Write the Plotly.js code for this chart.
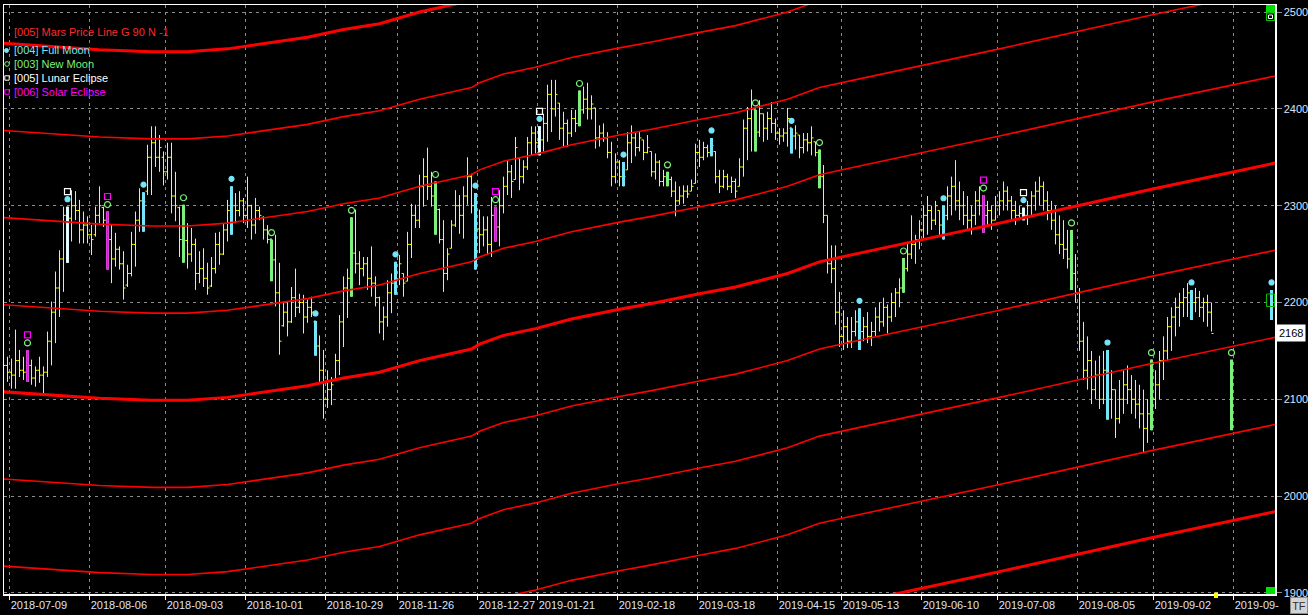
<!DOCTYPE html>
<html><head><meta charset="utf-8">
<script src="https://cdn.plot.ly/plotly-3.0.1.min.js"></script>
<style>html,body{margin:0;padding:0;background:#000;}#chart{width:1308px;height:615px;}</style>
</head><body><div id="chart"></div>
<script>
// ---- data -------------------------------------------------------------
// bar index of the first entry of the price arrays (index 0 = 2018-07-09)
const firstIndex = -2;
const high = [2156,2144,2142,2172,2151,2144,2151,2141,2134,2144,2134,2170,
2201,2232,2254,2299,2299,2316,2315,2306,2294,2289,
2280,2299,2320,2299,2294,2280,2272,2258,2253,2239,
2273,2294,2318,2314,2363,2382,2382,2373,2356,2365,
2365,2335,2299,2301,2282,2277,2266,2253,2256,2241,
2247,2272,2273,2282,2306,2320,2313,2315,2308,2330,
2301,2308,2299,2289,2280,2265,2270,2241,2201,2201,
2216,2235,2209,2208,2203,2206,2181,2166,2151,2130,
2123,2147,2187,2227,2235,2288,2296,2253,2247,2247,
2258,2227,2206,2196,2223,2230,2242,2249,2230,2273,
2302,2301,2332,2349,2360,2335,2325,2297,2285,2256,
2285,2316,2311,2320,2350,2333,2313,2296,2289,2289,
2309,2299,2316,2330,2347,2342,2371,2349,2347,2371,
2382,2382,2382,2395,2425,2430,2430,2406,2397,2389,
2399,2399,2419,2423,2427,2414,2401,2383,2385,2376,
2366,2354,2347,2345,2376,2383,2375,2376,2368,2373,
2356,2354,2347,2337,2335,2330,2325,2320,2321,2321,
2327,2364,2368,2366,2363,2370,2356,2337,2337,2333,
2330,2328,2349,2389,2402,2420,2399,2409,2395,2397,
2407,2390,2380,2380,2401,2380,2383,2373,2375,2375,
2382,2366,2358,2342,2290,2259,2259,2211,2192,2185,
2185,2192,2194,2185,2190,2180,2195,2200,2205,2198,
2210,2215,2225,2246,2262,2290,2270,2285,2300,2310,
2300,2305,2295,2300,2320,2330,2347,2325,2315,2310,
2300,2315,2320,2311,2305,2300,2310,2315,2325,2320,
2310,2305,2300,2298,2305,2315,2325,2330,2325,2315,
2305,2300,2290,2285,2275,2275,2250,2215,2180,2165,
2150,2140,2145,2150,2151,2130,2110,2120,2130,2135,
2125,2120,2115,2110,2100,2141,2130,2150,2165,2185,
2195,2205,2210,2215,2220,2213,2215,2212,2205,2208,2200];
const low = [2110,2118,2111,2111,2123,2120,2118,2115,2113,2117,2106,2123,
2135,2158,2185,2211,2241,2263,2285,2261,2261,2261,
2249,2268,2282,2278,2234,2220,2237,2234,2203,2216,
2227,2237,2273,2273,2311,2311,2340,2335,2321,2327,
2292,2284,2247,2241,2235,2242,2213,2220,2216,2208,
2216,2230,2239,2249,2263,2270,2282,2289,2282,2277,
2265,2271,2285,2265,2261,2222,2196,2146,2175,2165,
2179,2185,2189,2168,2179,2185,2145,2118,2080,2091,
2094,2120,2125,2154,2184,2206,2230,2218,2227,2213,
2206,2196,2168,2161,2175,2189,2208,2218,2206,2222,
2246,2277,2277,2299,2306,2299,2270,2261,2211,2223,
2256,2278,2271,2266,2301,2292,2234,2251,2258,2249,
2247,2263,2258,2292,2311,2308,2327,2316,2323,2337,
2352,2354,2352,2356,2366,2376,2392,2368,2361,2361,
2371,2376,2382,2395,2389,2389,2359,2361,2366,2349,
2320,2323,2320,2320,2337,2344,2351,2356,2347,2354,
2330,2327,2320,2320,2320,2309,2289,2301,2302,2308,
2315,2323,2340,2347,2350,2351,2323,2313,2318,2316,
2313,2308,2320,2330,2347,2356,2356,2371,2366,2368,
2375,2368,2363,2366,2361,2354,2358,2349,2354,2356,
2352,2351,2318,2282,2230,2220,2177,2154,2151,2153,
2153,2165,2151,2160,2158,2155,2165,2170,2175,2168,
2180,2185,2195,2210,2232,2245,2240,2255,2265,2270,
2275,2280,2270,2265,2285,2290,2295,2285,2280,2275,
2270,2280,2290,2272,2280,2275,2285,2290,2295,2295,
2285,2280,2285,2285,2280,2290,2295,2300,2295,2285,
2275,2260,2250,2245,2235,2213,2200,2150,2120,2110,
2095,2100,2090,2095,2079,2080,2060,2075,2085,2095,
2085,2080,2070,2045,2055,2068,2090,2100,2120,2140,
2150,2165,2175,2185,2185,2182,2190,2185,2180,2175,2170];
const open = [2120,2135,2128,2125,2140,2130,2128,2135,2122,2130,2125,2128,
2160,2190,2215,2245,2290,2287,2300,2295,2275,2280,
2270,2270,2290,2298,2285,2265,2245,2255,2240,2218,
2230,2260,2285,2305,2315,2350,2365,2350,2350,2335,
2350,2310,2298,2265,2264,2250,2260,2230,2235,2225,
2217,2235,2260,2250,2275,2295,2300,2295,2305,2290,
2300,2280,2295,2288,2275,2265,2244,2210,2176,2190,
2180,2205,2195,2200,2185,2195,2180,2155,2130,2100,
2110,2120,2140,2180,2215,2225,2251,2240,2235,2240,
2225,2220,2205,2180,2185,2210,2220,2224,2230,2222,
2260,2290,2285,2320,2330,2320,2310,2296,2265,2230,
2256,2280,2300,2290,2310,2330,2300,2276,2270,2275,
2260,2290,2278,2300,2320,2335,2327,2349,2330,2340,
2365,2375,2365,2368,2385,2415,2400,2406,2380,2385,
2375,2390,2385,2399,2410,2400,2401,2370,2375,2370,
2355,2330,2345,2330,2337,2365,2370,2360,2368,2355,
2356,2335,2345,2325,2330,2327,2315,2305,2310,2315,
2315,2323,2355,2350,2360,2355,2356,2330,2320,2330,
2320,2325,2320,2340,2380,2390,2399,2376,2395,2380,
2390,2385,2375,2372,2375,2380,2372,2373,2360,2368,
2365,2366,2355,2330,2290,2240,2235,2190,2165,2175,
2160,2170,2180,2170,2175,2165,2170,2185,2180,2195,
2185,2200,2210,2215,2235,2250,2260,2265,2275,2290,
2295,2285,2295,2280,2290,2310,2320,2305,2300,2290,
2285,2290,2305,2300,2290,2295,2285,2300,2305,2315,
2305,2295,2290,2292,2290,2300,2310,2315,2320,2305,
2295,2285,2270,2260,2255,2245,2230,2210,2160,2130,
2140,2110,2125,2100,2130,2100,2110,2080,2100,2115,
2110,2100,2095,2085,2070,2085,2100,2115,2140,2150,
2175,2185,2195,2200,2205,2210,2200,2205,2195,2200,2190];
const close = [2135,2128,2125,2140,2130,2128,2135,2122,2130,2125,2128,2160,
2190,2215,2245,2290,2287,2300,2295,2275,2280,2270,
2265,2290,2300,2285,2265,2245,2255,2240,2215,2230,
2260,2285,2305,2304,2350,2365,2350,2360,2335,2350,
2310,2300,2265,2264,2250,2260,2230,2235,2225,2215,
2235,2260,2250,2275,2295,2300,2295,2305,2290,2300,
2280,2295,2290,2275,2265,2244,2210,2160,2190,2180,
2205,2195,2200,2185,2195,2190,2155,2130,2100,2110,
2115,2140,2180,2215,2225,2251,2240,2235,2240,2225,
2220,2205,2180,2185,2210,2220,2224,2240,2220,2260,
2290,2285,2320,2330,2320,2310,2296,2265,2230,2250,
2280,2300,2290,2310,2330,2300,2276,2270,2275,2260,
2290,2278,2300,2320,2335,2325,2360,2330,2340,2365,
2375,2365,2368,2385,2415,2400,2415,2380,2385,2375,
2390,2385,2399,2410,2400,2405,2370,2375,2370,2355,
2330,2345,2330,2330,2365,2370,2360,2370,2355,2360,
2335,2345,2325,2330,2327,2315,2305,2310,2315,2312,
2320,2355,2350,2360,2355,2362,2330,2320,2330,2320,
2325,2315,2340,2380,2390,2400,2376,2395,2380,2390,
2385,2375,2372,2375,2390,2372,2375,2360,2368,2365,
2370,2355,2330,2290,2240,2235,2190,2165,2175,2160,
2170,2180,2170,2175,2165,2170,2185,2180,2195,2185,
2200,2210,2215,2235,2250,2260,2265,2275,2290,2295,
2285,2300,2280,2290,2310,2320,2305,2300,2290,2285,
2290,2305,2300,2290,2295,2285,2300,2305,2315,2305,
2295,2290,2292,2290,2300,2310,2315,2320,2305,2295,
2285,2270,2260,2255,2245,2230,2210,2160,2130,2140,
2110,2125,2100,2130,2100,2110,2080,2100,2115,2110,
2100,2095,2085,2070,2085,2100,2115,2140,2150,2175,
2185,2195,2200,2205,2210,2200,2205,2195,2200,2190,2168];

// projected moon bars drawn after the last traded bar
const projIndex = [305, 315];
const projHigh  = [2141, 2213];
const projLow   = [2068, 2182];
const projOpen  = [2085, 2210];
const projClose = [2100, 2200];

// moon phase / eclipse bars (bar index)
const fullMoonBars = [14, 33, 55, 76, 96, 116, 132, 153, 175, 195, 212, 233, 253, 274, 295, 315];
const newMoonBars  = [4, 24, 43, 65, 85, 106, 121, 142, 164, 186, 202, 223, 243, 265, 285, 305];
const lunarEclipseBars = [14, 132, 253];
const solarEclipseBars = [4, 24, 121, 243];

// x axis ticks (bar index of the grid line) and labels
const tickIndex = [-0.5, 19.5, 38.5, 58.5, 78.5, 96.5, 116.5, 131.5, 151.5, 171.5, 191.5, 207.5, 227.5, 246.5, 266.5, 285.5, 305.5];
const tickLabels = ['2018-07-09','2018-08-06','2018-09-03','2018-10-01','2018-10-29','2018-11-26','2018-12-27','2019-01-21','2019-02-18','2019-03-18','2019-04-15','2019-05-13','2019-06-10','2019-07-08','2019-08-05','2019-09-02','2019-09-'];

// Mars price line (base curve) read at bar indexes
const marsIndex = [-3, 5, 14, 22, 35, 44, 54, 64, 74, 83, 92, 102, 115, 117, 123, 131, 140, 152, 160, 172, 181, 194, 202, 212, 247, 285, 317];
const marsPrice = [2108, 2106, 2103, 2101, 2099, 2099, 2102, 2108, 2114, 2122, 2128, 2140, 2152, 2157, 2166, 2173, 2183, 2193, 2199, 2209, 2216, 2230, 2242, 2251, 2282, 2317, 2345];
const marsGap = 90;
const marsLevels = [-4, -3, -2, -1, 0, 1, 2, 3, 4];

const lastPrice = 2168;

// ---- styles -----------------------------------------------------------
const COL = {bar:'#ffff00', full:'#74e6f8', nw:'#7cf07c', lunar:'#ffffff', solar:'#ff00ff', red:'#ff0000', grid:'#8c8c8c', txt:'#dbe4ff'};
const FONT = 'Liberation Sans, Arial, sans-serif';
const W = 1308, H = 615, M = {l:4, r:33, t:5, b:21};
const PW = W - M.l - M.r, PH = H - M.t - M.b;
const px = x => (x - M.l) / PW;
const py = y => 1 - (y - M.t) / PH;

const lastIndex = firstIndex + high.length - 1;
const xs = high.map((_, k) => k + firstIndex);
function bar(i) {
  if (i <= lastIndex) { const k = i - firstIndex; return {h:high[k], l:low[k], o:open[k], c:close[k]}; }
  const p = projIndex.indexOf(i);
  return {h:projHigh[p], l:projLow[p], o:projOpen[p], c:projClose[p]};
}

const traces = [];
marsLevels.forEach(k => {
  traces.push({type:'scatter', mode:'lines', x:marsIndex, y:marsPrice.map(v => v + k * marsGap),
    line:{color:COL.red, width:(k % 4 === 0) ? 3 : 1.6}, hoverinfo:'skip', showlegend:false});
});
traces.push({type:'ohlc', x:xs, open:open, high:high, low:low, close:close, tickwidth:0.5,
  increasing:{line:{color:COL.bar, width:1}}, decreasing:{line:{color:COL.bar, width:1}},
  hoverinfo:'skip', showlegend:false});
function eventBars(list, color, width) {
  const b = list.map(bar);
  return {type:'ohlc', x:list, open:b.map(v=>v.o), high:b.map(v=>v.h), low:b.map(v=>v.l), close:b.map(v=>v.c),
    tickwidth:0.75, increasing:{line:{color, width}}, decreasing:{line:{color, width}}, hoverinfo:'skip', showlegend:false};
}
traces.push(eventBars(fullMoonBars, COL.full, 3));
traces.push(eventBars(newMoonBars, COL.nw, 3));
traces.push(eventBars(lunarEclipseBars, COL.lunar, 2.5));
traces.push(eventBars(solarEclipseBars, COL.solar, 2.5));
function eventMarks(list, off, symbol, color, size) {
  return {type:'scatter', mode:'markers', x:list, y:list.map(i => bar(i).h + off),
    marker:{symbol, size, color, line:{color, width:1.2}}, hoverinfo:'skip', showlegend:false, cliponaxis:false};
}
traces.push(eventMarks(fullMoonBars, 7.7, 'circle', COL.full, 5));
traces.push(eventMarks(newMoonBars, 7.2, 'circle-open', COL.nw, 6));
traces.push(eventMarks(lunarEclipseBars, 15.5, 'square-open', COL.lunar, 6));
traces.push(eventMarks(solarEclipseBars, 15.5, 'square-open', COL.solar, 6));

// ---- legend & decorations ---------------------------------------------
const legend = [
  {t:'[005] Mars Price Line G 90 N -1', c:'#ff2a2a', y:32},
  {t:'[004] Full Moon', c:COL.full, y:50},
  {t:'[003] New Moon', c:COL.nw, y:64},
  {t:'[005] Lunar Eclipse', c:'#ffffff', y:78},
  {t:'[006] Solar Eclipse', c:COL.solar, y:92}
];
const annotations = legend.map(e => ({xref:'paper', yref:'paper', x:px(12), y:py(e.y), xanchor:'left', yanchor:'middle',
  text:e.t, showarrow:false, font:{family:FONT, size:11, color:e.c}}));
annotations.push({xref:'paper', yref:'y', x:1, xshift:1, y:lastPrice, xanchor:'left', yanchor:'middle', text:String(lastPrice),
  showarrow:false, bgcolor:'#ffffff', borderpad:2, font:{family:FONT, size:11, color:'#000000'}});
annotations.push({xref:'paper', yref:'paper', x:px(1298.5), y:py(605.5), xanchor:'center', yanchor:'middle', text:'TF',
  showarrow:false, bgcolor:'#d4d4d4', bordercolor:'#8a8a8a', borderwidth:1, width:14, height:13, font:{family:FONT, size:11, color:'#303030'}});

function rect(x0, y0, x1, y1, fill, line) {
  return {type:'rect', xref:'paper', yref:'paper', x0:px(x0), x1:px(x1), y0:py(y0), y1:py(y1),
    fillcolor:fill, line:{color:line || fill, width:line ? 1 : 0}, layer:'above'};
}
function circ(cx, cy, r, fill, line) {
  return {type:'circle', xref:'paper', yref:'paper', x0:px(cx-r), x1:px(cx+r), y0:py(cy-r), y1:py(cy+r),
    fillcolor:fill, line:{color:line, width:1}, layer:'above'};
}
const shapes = [
  circ(6.5, 50.5, 2, COL.full, COL.full),
  circ(7, 64, 2.3, 'rgba(0,0,0,0)', COL.nw),
  rect(4.8, 75.8, 9.2, 80.2, 'rgba(0,0,0,0)', '#ffffff'),
  rect(4.8, 89.8, 9.2, 94.2, 'rgba(0,0,0,0)', COL.solar),
  rect(1266, 5, 1275, 12.7, '#00e000'),
  rect(1266.5, 13, 1274.5, 20.5, '#000000', '#00d000'),
  rect(1268.5, 15, 1272.5, 18.5, 'rgba(0,0,0,0)', '#ffffff'),
  rect(1266.5, 294, 1274.5, 306.5, 'rgba(0,0,0,0)', '#00c000'),
  rect(1266, 587, 1275, 594, '#00e000'),
  rect(1214, 592.5, 1218, 598, '#ffff00')
];

const axisCommon = {showgrid:true, gridcolor:COL.grid, gridwidth:1, griddash:'3px,4px', zeroline:false,
  showline:true, linecolor:'#ffffff', linewidth:1.5, mirror:true, fixedrange:true,
  tickfont:{family:FONT, size:11, color:COL.txt}};
const layout = {
  width:W, height:H, margin:M, paper_bgcolor:'#000000', plot_bgcolor:'#000000',
  showlegend:false, hovermode:false, dragmode:false, font:{family:FONT, size:11, color:COL.txt},
  xaxis:Object.assign({}, axisCommon, {range:[-1.875, 315.875], tickmode:'array', tickvals:tickIndex, ticktext:tickLabels,
    tickangle:0, ticklabelposition:'outside right', ticks:'outside', ticklen:4, tickcolor:'#ffffff', rangeslider:{visible:false}}),
  yaxis:Object.assign({}, axisCommon, {side:'right', range:[1898.9, 2507.3], tick0:1900, dtick:100,
    ticks:'outside', ticklen:5, tickcolor:COL.grid}),
  shapes, annotations
};
Plotly.newPlot('chart', traces, layout, {staticPlot:true, displayModeBar:false});
</script></body></html>
